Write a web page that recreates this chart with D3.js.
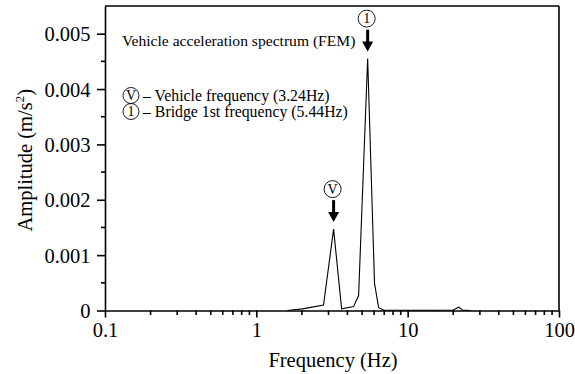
<!DOCTYPE html>
<html><head><meta charset="utf-8">
<script src="https://cdn.jsdelivr.net/npm/d3@7"></script>
<style>body{margin:0;background:#fff}svg{display:block}text{font-family:"Liberation Serif","Times New Roman",serif;fill:#000}</style>
</head><body><svg id="c" width="575" height="374"></svg>
<script>
const freqs = [1.6, 2.02, 2.78, 3.24, 3.66, 4.39, 4.74, 5.44, 6.04, 6.43, 6.93, 10, 15, 20, 21.8, 23, 26];
const amps  = [0, 0.00003, 0.0001, 0.00147, 0.00003, 0.00007, 0.00027, 0.00455, 0.00049, 0.00005, 0.00001, 0.000005, 0.000005, 0.00001, 0.00006, 0.00001, 0];
const yTicks = [0, 0.001, 0.002, 0.003, 0.004, 0.005];
const xTicks = [0.1, 1, 10, 100];
const peaks = [{f:3.24, a:0.00147, label:"V"}, {f:5.44, a:0.00455, label:"1"}];
const legendItems = [{sym:"V", text:"Vehicle frequency (3.24Hz)"}, {sym:"1", text:"Bridge 1st frequency (5.44Hz)"}];

const svg = d3.select("#c");
const L=105, R=559, T=6, B=310.5;
const x = d3.scaleLog().domain([0.1,100]).range([L,R]);
const y = d3.scaleLinear().domain([0,0.0055]).range([B,T]);
const FS = 20.5;

// frame top/right
svg.append("line").attr("x1",L).attr("x2",R).attr("y1",T).attr("y2",T).attr("stroke","#000").attr("stroke-width",1.6);
svg.append("line").attr("x1",R).attr("x2",R).attr("y1",T).attr("y2",B).attr("stroke","#000").attr("stroke-width",1.6);

// y axis
const yg = svg.append("g").attr("transform",`translate(${L},0)`)
  .call(d3.axisLeft(y).tickValues(yTicks).tickFormat(d=>d===0?"0":d3.format(".3f")(d)).tickSize(8).tickSizeOuter(0));
yg.select(".domain").attr("stroke-width",1.6);
yg.selectAll(".tick line").attr("stroke-width",1.6);
yg.selectAll(".tick text").attr("font-size",FS).attr("x",-14.5).attr("dy","0.34em");
const yMinor = d3.range(0.0005,0.0055,0.001);
svg.append("g").selectAll("line").data(yMinor).join("line")
  .attr("x1",L-4).attr("x2",L).attr("y1",d=>y(d)).attr("y2",d=>y(d)).attr("stroke","#000").attr("stroke-width",1.6);

// x axis
const xg = svg.append("g").attr("transform",`translate(0,${B})`)
  .call(d3.axisBottom(x).tickValues(xTicks).tickFormat(d=>String(d)).tickSize(7).tickSizeOuter(0));
xg.select(".domain").attr("stroke-width",1.6);
xg.selectAll(".tick line").attr("stroke-width",1.6);
xg.selectAll(".tick text").attr("font-size",FS).attr("y",26.5).attr("dy",0);
const xMinor = [];
[0.1,1,10].forEach(d=>{for(let k=2;k<=9;k++) xMinor.push(d*k);});
svg.append("g").selectAll("line").data(xMinor).join("line")
  .attr("x1",d=>x(d)).attr("x2",d=>x(d)).attr("y1",B).attr("y2",B+4.5).attr("stroke","#000").attr("stroke-width",1.6);

// axis titles
svg.append("text").attr("x",(L+R)/2+1).attr("y",367).attr("text-anchor","middle").attr("font-size",FS).text("Frequency (Hz)");
const yt = svg.append("text").attr("transform",`translate(32,${(T+B)/2+2}) rotate(-90)`).attr("text-anchor","middle").attr("font-size",FS);
yt.append("tspan").text("Amplitude (m/s");
yt.append("tspan").attr("font-size",13).attr("dy",-8).text("2");
yt.append("tspan").attr("dy",8).text(")");

// line
const data = freqs.map((f,i)=>({f, a:amps[i]}));
svg.append("path").datum(data).attr("fill","none").attr("stroke","#000").attr("stroke-width",1.1)
  .attr("d", d3.line().x(d=>x(d.f)).y(d=>y(d.a)));

// annotation text
svg.append("text").attr("x",122).attr("y",46).attr("font-size",15.6).text("Vehicle acceleration spectrum (FEM)");

function circled(g, cx, cy, r, s, fs){
  g.append("circle").attr("cx",cx).attr("cy",cy).attr("r",r).attr("fill","none").attr("stroke","#000").attr("stroke-width",0.9);
  g.append("text").attr("x",cx).attr("y",cy+fs*0.34).attr("text-anchor","middle").attr("font-size",fs).text(s);
}
const lg = svg.append("g");
legendItems.forEach((it,i)=>{
  const base = 101 + i*16;
  circled(lg, 131, base-5.5, 8, it.sym, 14);
  lg.append("text").attr("x",143).attr("y",base).attr("font-size",15.8).text("\u2013 " + it.text);
});

// peak markers with arrows
const ag = svg.append("g");
peaks.forEach(p=>{
  const px = x(p.f), tipY = y(p.a) - 7;
  ag.append("line").attr("x1",px).attr("x2",px).attr("y1",tipY-22).attr("y2",tipY-9).attr("stroke","#000").attr("stroke-width",3);
  ag.append("path").attr("d",`M${px-5.5},${tipY-10}L${px+5.5},${tipY-10}L${px},${tipY}Z`).attr("fill","#000");
  circled(ag, px-1, tipY-33, 8.5, p.label, 14);
});
</script></body></html>
